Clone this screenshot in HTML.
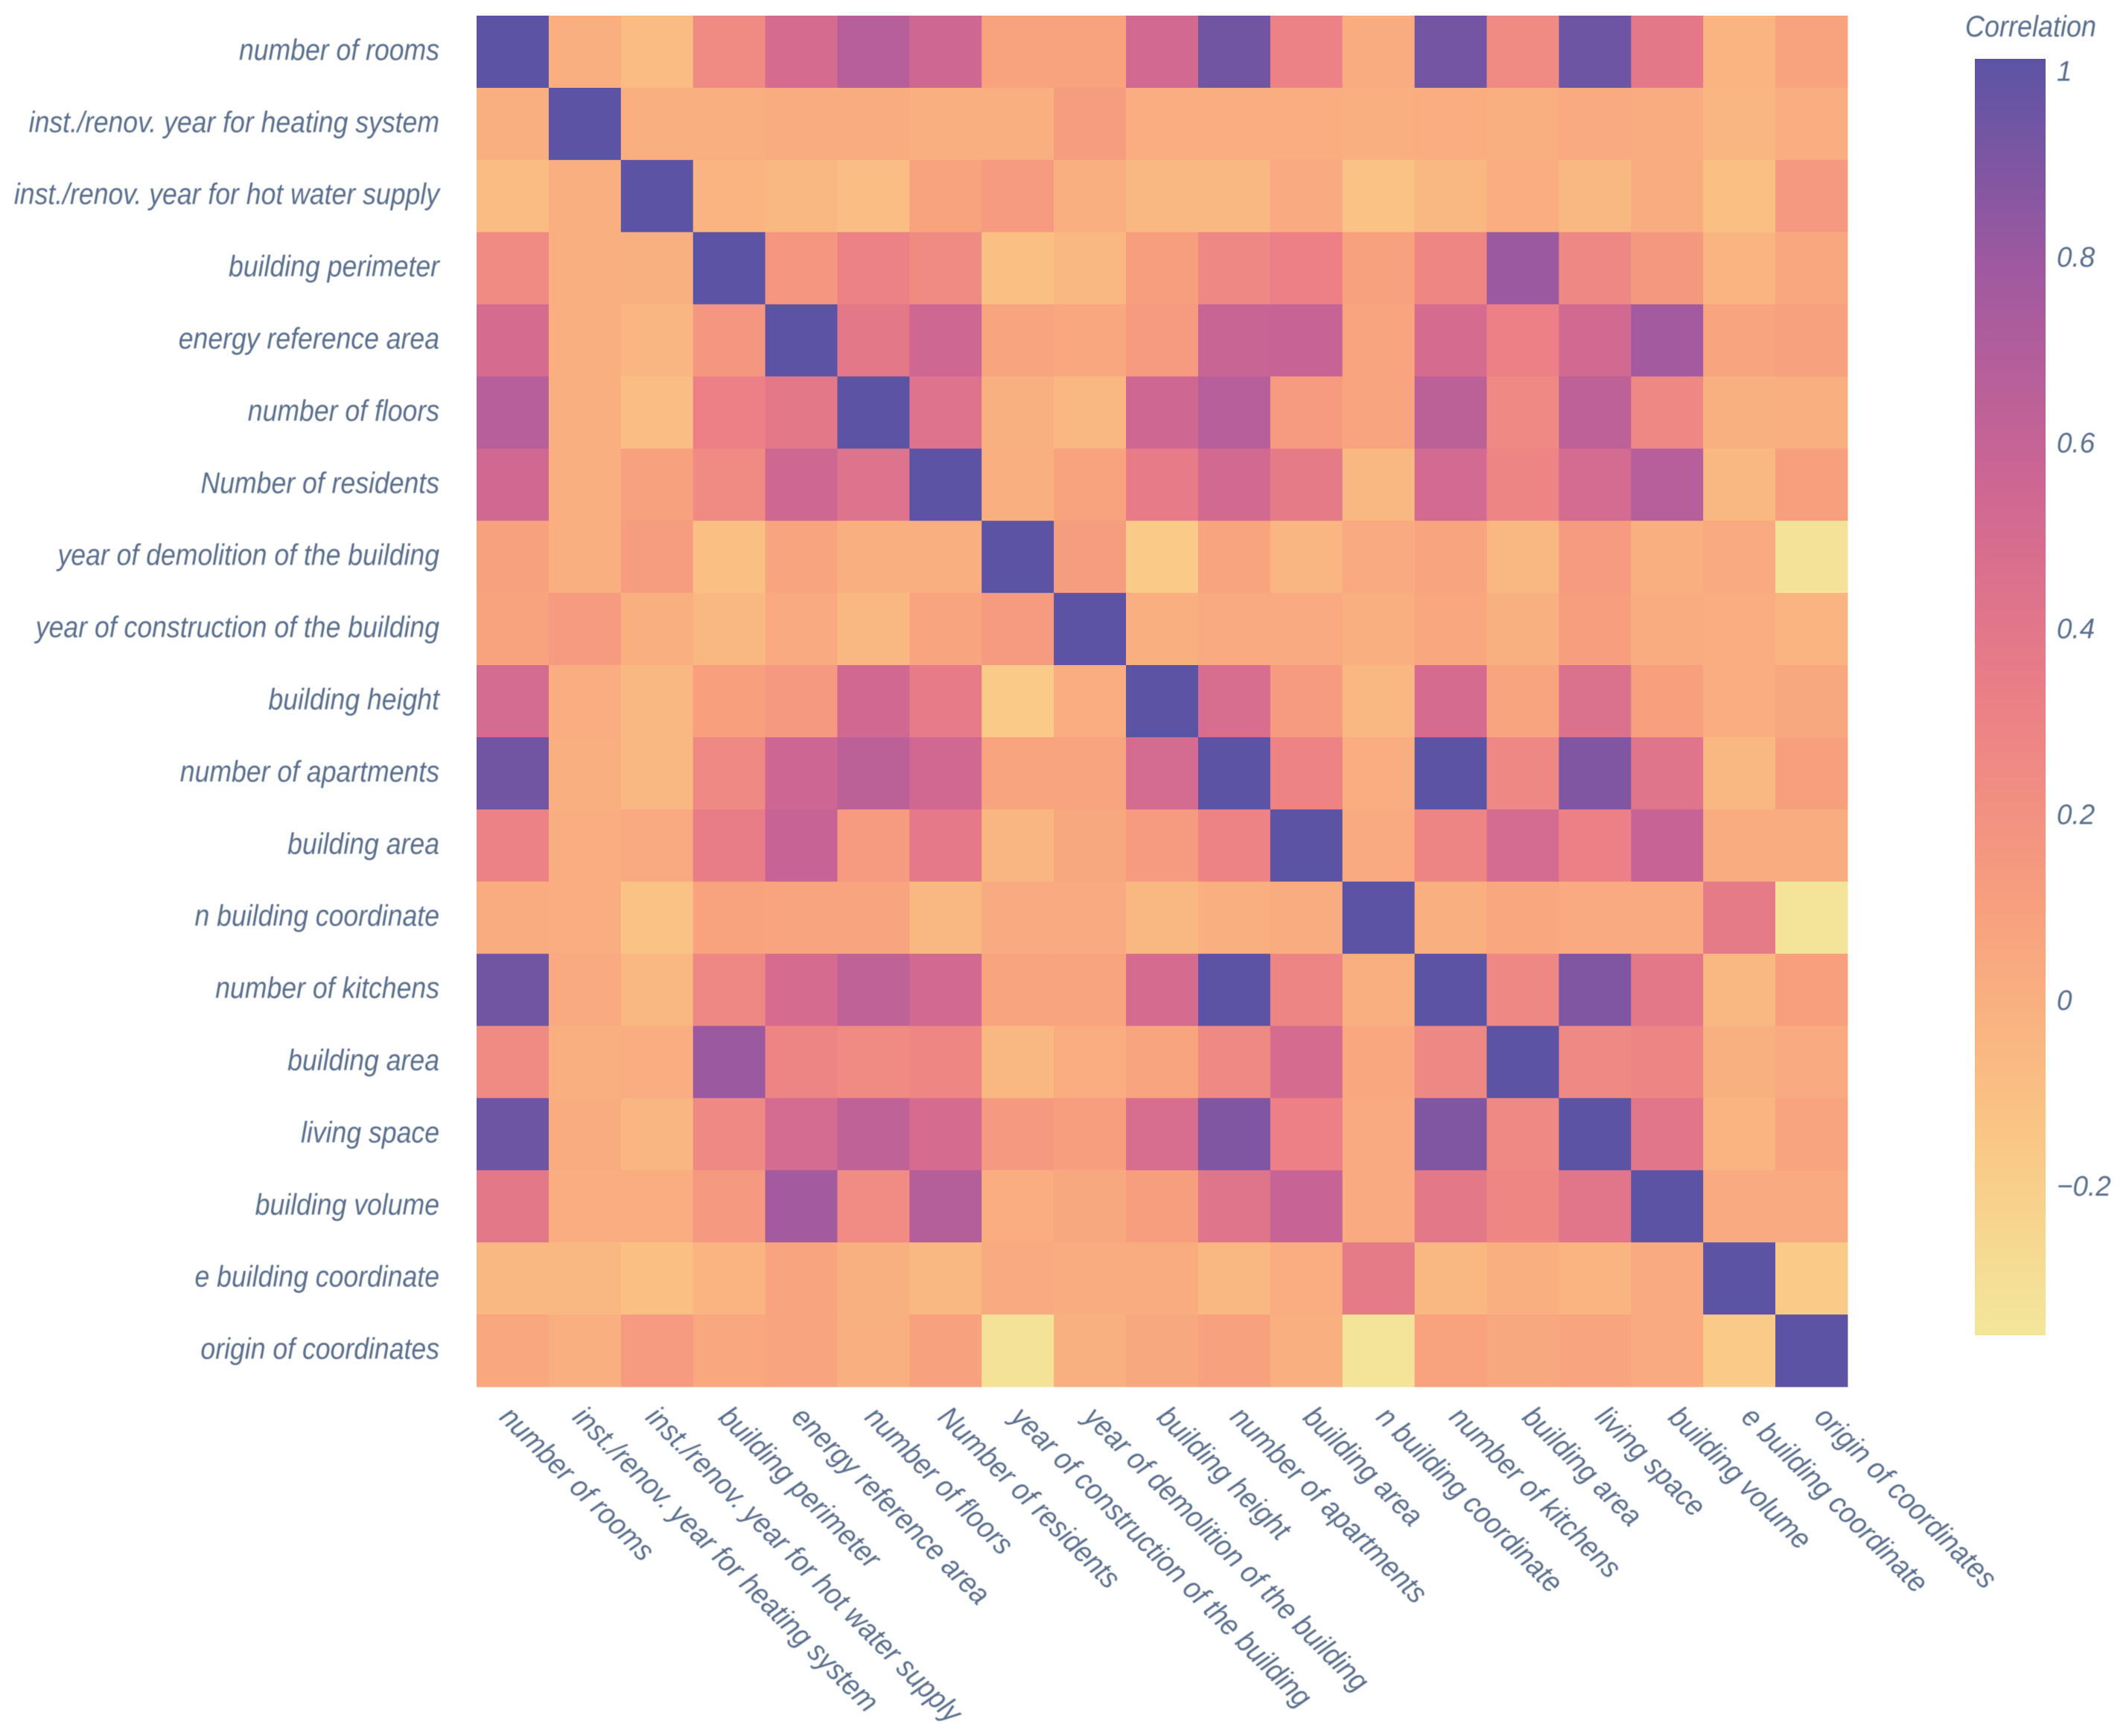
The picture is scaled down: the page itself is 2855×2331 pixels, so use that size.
<!DOCTYPE html>
<html lang="en">
<head>
<meta charset="utf-8">
<title>Correlation heatmap</title>
<style>
html,body{margin:0;padding:0;background:#fff;width:2855px;height:2331px;overflow:hidden}
svg{display:block}
text{font-family:"Liberation Sans",sans-serif;font-style:italic;fill:#5a6e8c;filter:blur(.5px)}
</style>
</head>
<body>
<svg id="chart" xmlns="http://www.w3.org/2000/svg" width="2855" height="2331" viewBox="0 0 2855 2331">
  <defs>
    <linearGradient id="colorbar-gradient" x1="0" y1="1" x2="0" y2="0"></linearGradient>
  </defs>
  <rect x="0" y="0" width="2855" height="2331" fill="#ffffff"></rect>
  <g id="cells"></g>
  <g id="y-labels"></g>
  <g id="x-labels"></g>
  <g id="colorbar">
    <rect x="2652" y="79" width="95" height="1714" fill="url(#colorbar-gradient)"></rect>
    <text transform="translate(2639 49) scale(.9 1)" font-size="40">Correlation</text>
  </g>
</svg>
<script>
const rowLabels = ["number of rooms","inst./renov. year for heating system","inst./renov. year for hot water supply","building perimeter","energy reference area","number of floors","Number of residents","year of demolition of the building","year of construction of the building","building height","number of apartments","building area","n building coordinate","number of kitchens","building area","living space","building volume","e building coordinate","origin of coordinates"];
const columnLabels = ["number of rooms","inst./renov. year for heating system","inst./renov. year for hot water supply","building perimeter","energy reference area","number of floors","Number of residents","year of construction of the building","year of demolition of the building","building height","number of apartments","building area","n building coordinate","number of kitchens","building area","living space","building volume","e building coordinate","origin of coordinates"];
const correlationValues = [
[1,0,-.08,.24,.49,.66,.54,.08,.08,.52,.93,.3,.02,.92,.24,.94,.38,-.03,.08],
[0,1,0,0,.02,.02,0,0,.12,.01,.01,.01,0,.01,0,.03,.02,-.04,.01],
[-.08,0,1,-.03,-.05,-.09,.08,.13,0,-.06,-.05,.03,-.12,-.06,.01,-.05,.02,-.11,.14],
[.24,0,-.01,1,.16,.3,.24,-.1,-.06,.11,.26,.31,.09,.27,.79,.26,.15,-.03,.05],
[.49,0,-.04,.16,1,.38,.54,.06,.05,.13,.57,.58,.06,.49,.31,.52,.76,.06,.09],
[.66,0,-.09,.31,.38,1,.43,-.01,-.05,.54,.66,.13,.07,.64,.25,.63,.26,-.01,0],
[.53,0,.09,.24,.54,.43,1,0,.08,.35,.52,.36,-.05,.51,.28,.5,.66,-.05,.1],
[.09,0,.12,-.1,.07,0,0,1,.12,-.17,.06,-.04,.03,.07,-.06,.13,0,.03,-.33],
[.08,.13,0,-.05,.03,-.05,.06,.13,1,0,.03,.03,0,.05,-.01,.11,.02,.01,-.03],
[.5,.01,-.06,.1,.14,.53,.35,-.17,.01,1,.48,.13,-.05,.49,.06,.45,.1,.01,.04],
[.93,0,-.05,.25,.55,.64,.53,.06,.06,.5,1,.29,.01,1,.26,.88,.41,-.05,.1],
[.3,.01,.03,.34,.58,.13,.37,-.04,.04,.13,.29,1,.03,.28,.5,.31,.58,.02,.02],
[.02,.01,-.12,.08,.07,.07,-.05,.03,.03,-.05,0,.02,1,0,.05,.03,.03,.36,-.34],
[.93,.03,-.05,.26,.49,.62,.52,.07,.07,.49,1,.28,0,1,.26,.88,.38,-.05,.1],
[.24,0,.01,.79,.28,.24,.27,-.06,.01,.06,.25,.49,.05,.26,1,.25,.28,-.01,.03],
[.94,.02,-.04,.25,.5,.62,.49,.14,.11,.47,.88,.31,.03,.88,.25,1,.4,-.03,.07],
[.38,.01,.01,.14,.76,.23,.67,.01,.04,.11,.41,.58,.03,.38,.27,.4,1,.03,.03],
[-.05,-.05,-.11,-.03,.07,-.01,-.05,.03,.02,.02,-.05,.01,.36,-.05,0,-.03,.03,1,-.17],
[.05,0,.13,.05,.07,0,.09,-.33,-.01,.04,.09,0,-.34,.08,.04,.06,.03,-.17,1]
];
const colorbarTicks = [1,.8,.6,.4,.2,0,-.2];
const colorbarTickLabels = ["1","0.8","0.6","0.4","0.2","0","\u22120.2"];
const colorStops = ["#f3e79b","#fac484","#f8a07e","#eb7f86","#ce6693","#a059a0","#5c53a5"];
const colorDomain = [-0.36,1];

const NS = "http://www.w3.org/2000/svg";
const plot = {left:640,top:21,size:1841};

function xScale(i){return plot.left + i*plot.size/columnLabels.length;}
function yScale(i){return plot.top + i*plot.size/rowLabels.length;}
function xLabelAnchor(c){return 669 + c*98.1;}
function colorbarY(v){return 345 + (0.8 - v)*1247.5;}

function hexToRgb(h){return [1,3,5].map(function(k){return parseInt(h.substr(k,2),16);});}
function colorFor(v){
  const t = Math.max(0,Math.min(1,(v-colorDomain[0])/(colorDomain[1]-colorDomain[0])));
  const p = t*(colorStops.length-1);
  const i = Math.min(colorStops.length-2,Math.floor(p));
  const a = hexToRgb(colorStops[i]);
  const b = hexToRgb(colorStops[i+1]);
  const f = p-i;
  return "rgb("+a.map(function(c,k){return Math.round(c+(b[k]-c)*f);}).join(",")+")";
}

const cellsGroup = document.getElementById("cells");
correlationValues.forEach(function(row,r){
  row.forEach(function(v,c){
    const cell = document.createElementNS(NS,"rect");
    
    
    cell.setAttribute("x",xScale(c));
    cell.setAttribute("y",yScale(r));
    cell.setAttribute("width",plot.size/columnLabels.length+.5);
    cell.setAttribute("height",plot.size/rowLabels.length+.5);
    cell.setAttribute("fill",colorFor(v));
    cellsGroup.appendChild(cell);
  });
});

const yGroup = document.getElementById("y-labels");
rowLabels.forEach(function(label,r){
  const t = document.createElementNS(NS,"text");
  
  
  t.setAttribute("font-size","40");
  t.setAttribute("text-anchor","end");
  t.setAttribute("transform","translate(590 "+(yScale(r+.5)+11)+") scale(.89 1)");
  t.textContent = label;
  yGroup.appendChild(t);
});

const xGroup = document.getElementById("x-labels");
columnLabels.forEach(function(label,c){
  const t = document.createElementNS(NS,"text");
  
  
  t.setAttribute("font-size","40");
  t.setAttribute("transform","translate("+xLabelAnchor(c)+" 1905) rotate(45) scale(.905 1)");
  t.textContent = label;
  xGroup.appendChild(t);
});

const gradient = document.getElementById("colorbar-gradient");
colorStops.forEach(function(col,i){
  const s = document.createElementNS(NS,"stop");
  s.setAttribute("offset",i/(colorStops.length-1));
  s.setAttribute("stop-color",col);
  gradient.appendChild(s);
});

const barGroup = document.getElementById("colorbar");
colorbarTicks.forEach(function(v,i){
  const t = document.createElementNS(NS,"text");
  
  
  t.setAttribute("font-size","38");
  t.setAttribute("transform","translate(2762 "+(colorbarY(v)+13)+") scale(.97 1)");
  t.textContent = colorbarTickLabels[i];
  barGroup.appendChild(t);
});
</script>
</body>
</html>
